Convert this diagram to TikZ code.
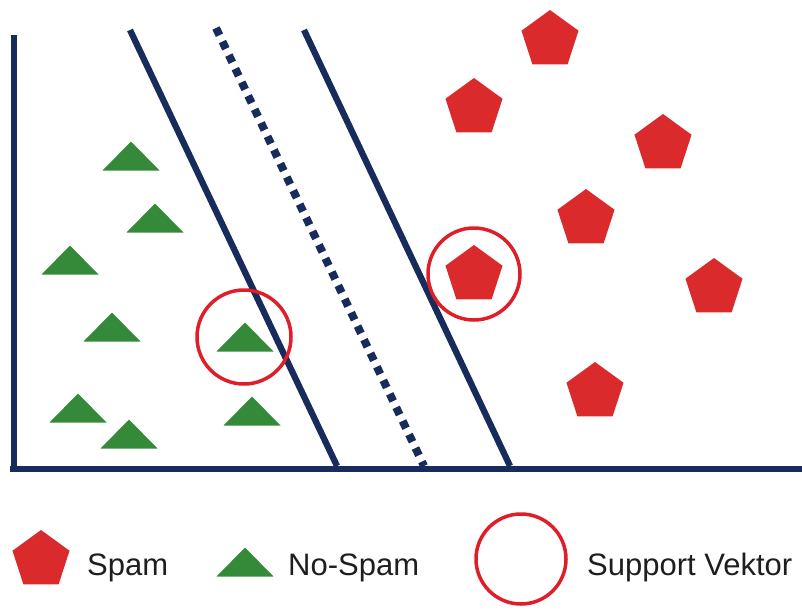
\documentclass[tikz,border=0pt]{standalone}
\usepackage{fontspec}
\setmainfont{Liberation Sans}
\usetikzlibrary{shapes.geometric}

\definecolor{spamred}{RGB}{218,42,44}
\definecolor{hamgreen}{RGB}{52,138,56}
\definecolor{navy}{RGB}{24,44,92}
\definecolor{ringred}{RGB}{222,30,40}
\definecolor{labelgray}{RGB}{30,30,30}

\tikzset{
  spam/.style={regular polygon, regular polygon sides=5, fill=spamred,
    draw=none, inner sep=0pt, minimum size=60pt},
  svring/.style={circle, draw=ringred, line width=3.5pt, inner sep=0pt},
  axisline/.style={navy, line width=6.5pt},
  margin/.style={navy, line width=6.3pt},
  hyperplane/.style={navy, line width=8pt, dash pattern=on 8pt off 7pt},
  legendtext/.style={anchor=base west, text=labelgray, font=\fontsize{31}{36}\selectfont, inner sep=0pt},
  nospam/.pic={\fill[hamgreen] (-28.5,14.5) -- (0,-14.5) -- (28.5,14.5) -- cycle;}
}

\begin{document}
\begin{tikzpicture}[x=1pt,y=-1pt]
\useasboundingbox (0,0) rectangle (802,613);

% axes
\coordinate (ytop) at (14,35);
\coordinate (ybot) at (14,472);
\coordinate (xstart) at (10,469);
\coordinate (xend) at (802,469);
\draw[axisline] (ytop) -- (ybot);
\draw[axisline] (xstart) -- (xend);

% margins and separating hyperplane
\coordinate (m1top) at (130,30);  \coordinate (m1bot) at (337,466);
\coordinate (hptop) at (216,28);  \coordinate (hpbot) at (424,466);
\coordinate (m2top) at (304,30);  \coordinate (m2bot) at (510,466);
\draw[margin] (m1top) -- (m1bot);
\draw[hyperplane] (hptop) -- (hpbot);
\draw[margin] (m2top) -- (m2bot);

% spam points
\node[spam] (s1) at (550,40) {};
\node[spam] (s2) at (474,108) {};
\node[spam] (s3) at (663,144) {};
\node[spam] (s4) at (586,219) {};
\node[spam] (s5) at (474,275) {};
\node[spam] (s6) at (714,288) {};
\node[spam] (s7) at (595,392) {};

% no-spam points
\pic at (131,156) {nospam};
\pic at (155,218) {nospam};
\pic at (70,260) {nospam};
\pic at (112,327) {nospam};
\pic at (245,337) {nospam};
\pic at (78,408) {nospam};
\pic at (129,434) {nospam};
\pic at (252,411) {nospam};

% support vectors
\node[svring, minimum size=94pt] (sv1) at (244,337) {};
\node[svring, minimum size=92pt] (sv2) at (474,274) {};

% legend
\node[spam] (legspam) at (41,560) {};
\node[legendtext] (lspam) at (87,575) {Spam};
\pic at (245,562) {nospam};
\node[legendtext] (lnospam) at (288,575) {No-Spam};
\node[svring, minimum size=90pt] (legsv) at (521,559) {};
\node[legendtext] (lsv) at (587,575) {Support Vektor};
\end{tikzpicture}
\end{document}
